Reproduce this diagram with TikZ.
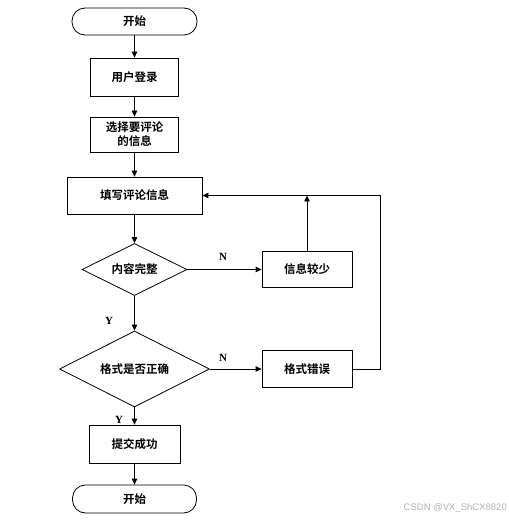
\documentclass[tikz,border=0pt]{standalone}
\usepackage{fontspec}
\setmainfont{Liberation Serif}
\newfontfamily\cjk{Noto Sans CJK SC}[BoldFont={Noto Sans CJK SC Bold}]
\newfontfamily\wmfont{Liberation Sans}
\usetikzlibrary{shapes.geometric,arrows.meta}
\begin{document}
\begin{tikzpicture}[x=1pt,y=-1pt,
  every node/.style={font=\cjk\bfseries\fontsize{11.5}{14}\selectfont},
  procbox/.style={draw,rectangle,line width=0.8pt,align=center,inner sep=1pt},
  termbox/.style={draw,rectangle,rounded corners=13pt,line width=0.8pt,inner sep=1pt},
  decbox/.style={draw,diamond,shape aspect=2,line width=0.8pt,inner sep=0pt},
  flow/.style={line width=0.8pt,-{Triangle[length=6pt,width=5.5pt]}},
  yn/.style={font=\rmfamily\bfseries\fontsize{11}{13}\selectfont}]
\useasboundingbox (0,0) rectangle (508,521);
\node[termbox,minimum width=125pt,minimum height=27pt] (start) at (134.5,21.5) {开始};
\node[procbox,minimum width=88pt,minimum height=38pt] (login) at (134.5,77) {用户登录};
\node[procbox,minimum width=88pt,minimum height=35pt] (select) at (134.5,134.5) {选择要评论\\的信息};
\node[procbox,minimum width=135pt,minimum height=37pt] (fill) at (134.5,195.5) {填写评论信息};
\node[decbox,minimum width=105pt,minimum height=52pt] (d1) at (134.5,269.5) {内容完整};
\node[procbox,minimum width=90pt,minimum height=36pt] (less) at (307,269.5) {信息较少};
\node[decbox,minimum width=150pt,minimum height=76pt] (d2) at (134.5,369) {格式是否正确};
\node[procbox,minimum width=90pt,minimum height=37pt] (err) at (307,369) {格式错误};
\node[procbox,minimum width=91pt,minimum height=38pt] (submit) at (134.5,444) {提交成功};
\node[termbox,minimum width=124pt,minimum height=28pt] (end) at (134.5,499) {开始};
\coordinate (loopR) at (380,195.5);
\coordinate (lessTop) at (307,195.5);
\draw[flow] (start) -- (login);
\draw[flow] (login) -- (select);
\draw[flow] (select) -- (fill);
\draw[flow] (fill) -- (d1);
\draw[flow] (d1.east) -- (less.west);
\draw[flow] (less.north) -- (lessTop);
\draw[flow] (d1.south) -- (d2.north);
\draw[flow] (d2.east) -- (err.west);
\draw[flow] (err.east) -| (loopR) -- (fill.east);
\draw[flow] (d2.south) -- (submit.north);
\draw[flow] (submit) -- (end);
\node[yn] (n1) at (223,257) {N};
\node[yn] (y1) at (109,321) {Y};
\node[yn] (n2) at (223,358) {N};
\node[yn] (y2) at (119,420) {Y};
\node[font=\wmfont\fontsize{9.5}{11}\selectfont,text=black!30,anchor=east,inner sep=0pt] (wm) at (507,508) {CSDN @VX\_ShCX8820};
\end{tikzpicture}
\end{document}
